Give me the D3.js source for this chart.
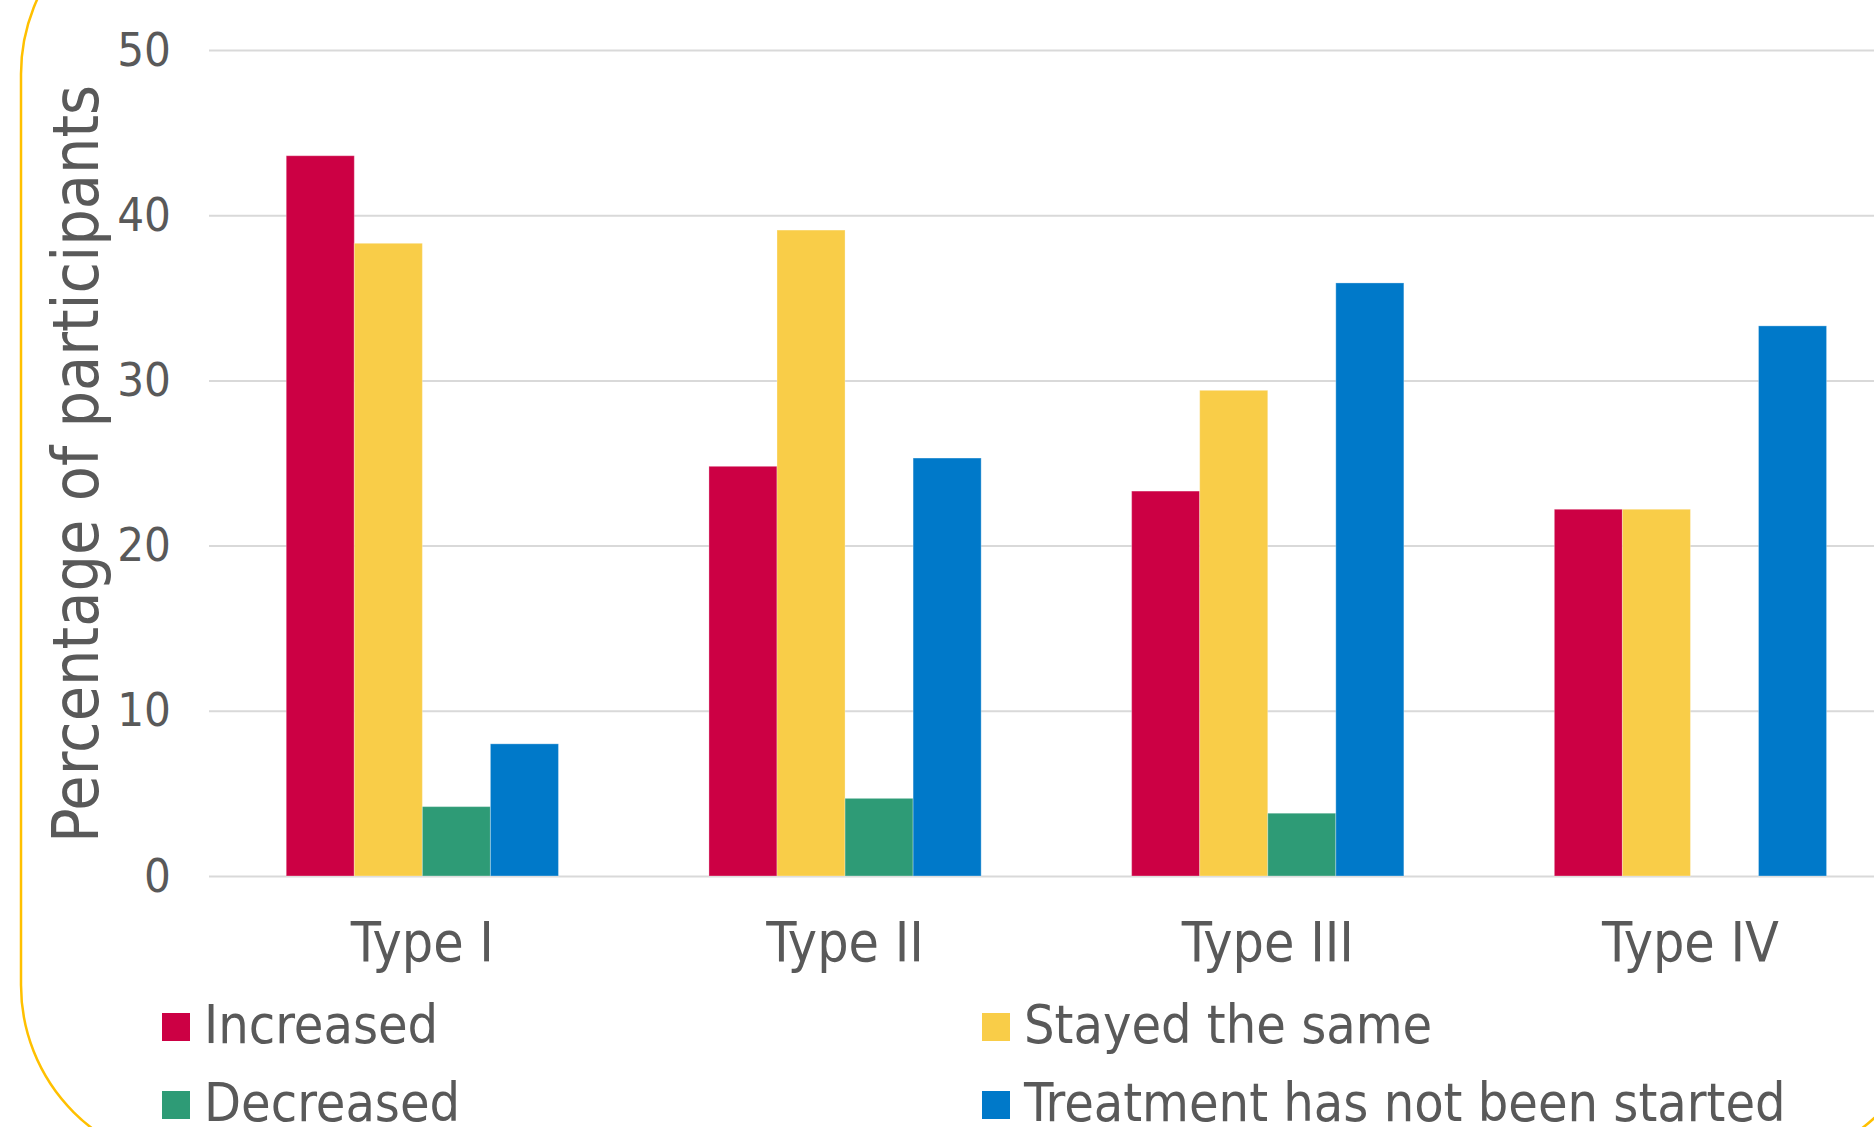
<!DOCTYPE html>
<html>
<head>
<meta charset="utf-8">
<script src="https://cdn.jsdelivr.net/npm/d3@7"></script>
<style>
  html, body { margin: 0; padding: 0; background: #fff; overflow: hidden; }
  svg text {
    font-family: "DejaVu Sans Condensed", "DejaVu Sans", sans-serif;
    font-stretch: semi-condensed;
    fill: #595959;
  }
</style>
</head>
<body>
<svg id="chart" width="1874" height="1127"></svg>
<script>
// ---- data ----
const categories = ["Type I", "Type II", "Type III", "Type IV"];
const seriesNames = ["Increased", "Stayed the same", "Decreased", "Treatment has not been started"];
const increased  = [43.6, 24.8, 23.3, 22.2];
const stayedSame = [38.3, 39.1, 29.4, 22.2];
const decreased  = [4.2, 4.7, 3.8, 0];
const notStarted = [8.0, 25.3, 35.9, 33.3];
const yTicks = [0, 10, 20, 30, 40, 50];
const seriesColors = ["#CC0044", "#F9CD48", "#2E9B76", "#0079C9"];

const seriesValues = [increased, stayedSame, decreased, notStarted];

// ---- layout ----
const W = 1874, H = 1127;
const plotLeft = 209, plotTop = 50, plotBottom = 876;
const step = 422.7;
const svg = d3.select("#chart");

// rounded frame around the panel
svg.append("rect")
  .attr("x", 21).attr("y", -106)
  .attr("width", 1912).attr("height", 1271)
  .attr("rx", 180).attr("ry", 180)
  .attr("fill", "none")
  .attr("stroke", "#FFC000")
  .attr("stroke-width", 2.5);

const x0 = d3.scaleBand()
  .domain(categories)
  .range([plotLeft + 2, plotLeft + 2 + 4 * step])
  .paddingInner(0.356)
  .paddingOuter(0.178);

const x1 = d3.scaleBand()
  .domain(seriesNames)
  .range([0, x0.bandwidth()])
  .padding(0);

const y = d3.scaleLinear().domain([0, 50]).range([plotBottom, plotTop]);

// y axis with gridlines
const yAxis = svg.append("g")
  .attr("transform", `translate(${plotLeft},0)`)
  .call(d3.axisLeft(y).tickValues(yTicks).tickSize(-(W - plotLeft + 40)).tickPadding(38));
yAxis.select(".domain").remove();
yAxis.selectAll(".tick line").attr("stroke", "#d9d9d9").attr("stroke-width", 2);
yAxis.selectAll(".tick text").attr("font-size", 47).attr("fill", "#595959");

// bars
const groups = svg.append("g")
  .selectAll("g")
  .data(categories)
  .join("g")
  .attr("transform", d => `translate(${x0(d)},0)`);

groups.selectAll("rect")
  .data((d, i) => seriesNames.map((s, k) => ({ series: s, k, value: seriesValues[k][i] })))
  .join("rect")
  .attr("x", d => x1(d.series))
  .attr("width", x1.bandwidth())
  .attr("y", d => y(d.value))
  .attr("height", d => y(0) - y(d.value))
  .attr("fill", d => seriesColors[d.k])
  .attr("stroke", "#ffffff")
  .attr("stroke-opacity", d => d.value > 0 ? 0.3 : 0)
  .attr("stroke-width", 1);

// category axis
const xAxis = svg.append("g")
  .attr("transform", `translate(0,${plotBottom})`)
  .call(d3.axisBottom(x0).tickSize(0).tickPadding(46));
xAxis.select(".domain").remove();
xAxis.selectAll(".tick text").attr("font-size", 55).attr("fill", "#595959");

// y axis title
svg.append("text")
  .attr("transform", "translate(98,464) rotate(-90)")
  .attr("text-anchor", "middle")
  .attr("font-size", 64)
  .text("Percentage of participants");

// legend, two columns
const legendCols = [162, 982];
const legendRows = [1013, 1091];
const legend = svg.append("g")
  .selectAll("g")
  .data(seriesNames)
  .join("g")
  .attr("transform", (d, i) => `translate(${legendCols[i % 2]},${legendRows[Math.floor(i / 2)]})`);

legend.append("rect")
  .attr("width", 28).attr("height", 28)
  .attr("fill", (d, i) => seriesColors[i]);

legend.append("text")
  .attr("x", 42)
  .attr("y", 30)
  .attr("font-size", 53.5)
  .text(d => d);
</script>
</body>
</html>
